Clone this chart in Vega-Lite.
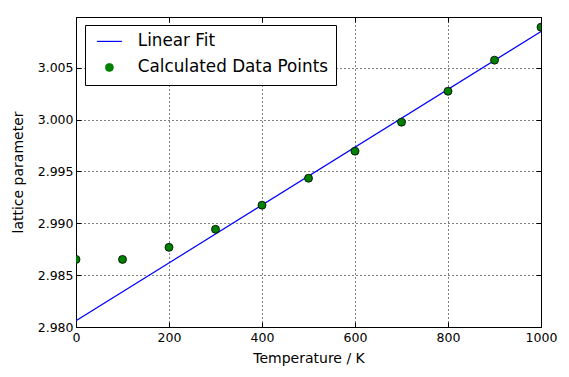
{
  "$schema": "https://vega.github.io/schema/vega-lite/v6.json",
  "autosize": {"type": "none"},
  "width": 465,
  "height": 310,
  "padding": {"left": 76, "top": 17, "right": 28, "bottom": 50},
  "background": "white",
  "config": {
    "font": "DejaVu Sans",
    "view": {"stroke": "black", "strokeWidth": 1},
    "axis": {
      "domain": false,
      "grid": true,
      "gridColor": "black",
      "gridDash": [1, 3],
      "gridOpacity": 1,
      "gridWidth": 1,
      "tickColor": "black",
      "tickSize": -5,
      "labelFlush": false,
      "labelFont": "DejaVu Sans",
      "labelFontSize": 12.5,
      "labelColor": "black",
      "titleFont": "DejaVu Sans",
      "titleFontSize": 14,
      "titleFontWeight": "normal",
      "titleColor": "black"
    }
  },
  "resolve": {"axis": {"x": "independent", "y": "independent"}},
  "datasets": {
    "pts": [
      {"T": 0, "a": 2.98652, "series": "Calculated Data Points"},
      {"T": 100, "a": 2.98652, "series": "Calculated Data Points"},
      {"T": 200, "a": 2.98768, "series": "Calculated Data Points"},
      {"T": 300, "a": 2.98942, "series": "Calculated Data Points"},
      {"T": 400, "a": 2.99175, "series": "Calculated Data Points"},
      {"T": 500, "a": 2.99435, "series": "Calculated Data Points"},
      {"T": 600, "a": 2.99696, "series": "Calculated Data Points"},
      {"T": 700, "a": 2.99976, "series": "Calculated Data Points"},
      {"T": 800, "a": 3.00274, "series": "Calculated Data Points"},
      {"T": 900, "a": 3.00574, "series": "Calculated Data Points"},
      {"T": 1000, "a": 3.00892, "series": "Calculated Data Points"}
    ],
    "fit": [
      {"T": 0, "a": 2.9806, "series": "Linear Fit"},
      {"T": 1000, "a": 3.0085, "series": "Linear Fit"}
    ]
  },
  "layer": [
    {
      "data": {"name": "fit"},
      "mark": {"type": "line", "strokeWidth": 1.2, "clip": true},
      "encoding": {
        "x": {"field": "T", "type": "quantitative", "scale": {"domain": [0, 1000], "nice": false}, "axis": {"values": [0, 200, 400, 600, 800, 1000], "format": "d", "title": "Temperature / K", "titlePadding": 8, "labelPadding": 9}},
        "y": {"field": "a", "type": "quantitative", "scale": {"domain": [2.98, 3.0099], "nice": false, "zero": false}, "axis": {"values": [2.98, 2.985, 2.99, 2.995, 3.0, 3.005], "format": ".3f", "title": "lattice parameter", "titlePadding": 12, "labelPadding": 8}},
        "color": {
          "field": "series", "type": "nominal",
          "scale": {"domain": ["Linear Fit", "Calculated Data Points"], "range": ["#0000ff", "#008000"]},
          "legend": {
            "title": null,
            "orient": "none",
            "legendX": 9,
            "legendY": 8,
            "direction": "vertical",
            "fillColor": "white",
            "strokeColor": "black",
            "padding": 8,
            "cornerRadius": 0,
            "labelFont": "DejaVu Sans",
            "labelFontSize": 16.8,
            "labelColor": "black",
            "labelLimit": 0,
            "labelOffset": 20,
            "symbolOffset": 8,
            "rowPadding": 8,
            "symbolSize": 625,
            "encode": {
              "symbols": {
                "update": {
                  "shape": {"signal": "datum.value === 'Linear Fit' ? 'stroke' : 'circle'"},
                  "size": {"signal": "datum.value === 'Linear Fit' ? 625 : 64"},
                  "stroke": {"signal": "datum.value === 'Linear Fit' ? '#0000ff' : 'black'"},
                  "fill": {"signal": "datum.value === 'Linear Fit' ? 'transparent' : '#008000'"},
                  "strokeWidth": {"signal": "datum.value === 'Linear Fit' ? 1.2 : 0.8"},
                  "opacity": {"value": 1}
                }
              }
            }
          }
        }
      }
    },
    {
      "data": {"name": "pts"},
      "mark": {"type": "point", "filled": true, "size": 64, "stroke": "black", "strokeWidth": 0.8, "opacity": 1, "clip": true},
      "encoding": {
        "x": {"field": "T", "type": "quantitative", "axis": {"orient": "top", "values": [0, 200, 400, 600, 800, 1000], "labels": false, "grid": false, "title": null}},
        "y": {"field": "a", "type": "quantitative", "axis": {"orient": "right", "values": [2.98, 2.985, 2.99, 2.995, 3.0, 3.005], "labels": false, "grid": false, "title": null}},
        "color": {"field": "series", "type": "nominal"}
      }
    }
  ]
}
